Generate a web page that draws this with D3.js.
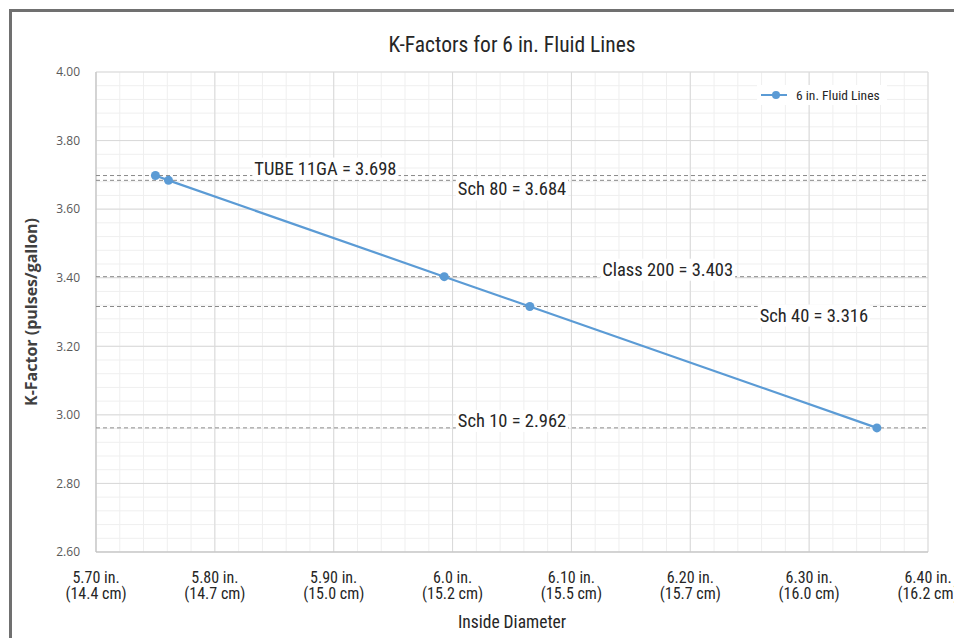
<!DOCTYPE html>
<html>
<head>
<meta charset="utf-8">
<script src="https://cdn.jsdelivr.net/npm/d3@7"></script>
<style>
    body { margin: 0; background: #fff; }
    .narrow { font-family: "Liberation Sans Narrow", "Roboto Condensed", "Liberation Sans", sans-serif; }
</style>
</head>
<body>
<script>
// data
const pipeNames = ["TUBE 11GA", "Sch 80", "Class 200", "Sch 40", "Sch 10"];
const insideDiam = [5.75, 5.761, 5.993, 6.065, 6.357];
const kFactor = [3.698, 3.684, 3.403, 3.316, 2.962];
// where each annotation sits along x (inches) and whether it goes above the dashed line
const labelAt = [5.893, 6.05, 6.181, 6.304, 6.05];
const labelAbove = [true, false, true, false, true];

const xTicks = [5.70, 5.80, 5.90, 6.0, 6.10, 6.20, 6.30, 6.40];
const xTickIn = ["5.70 in.", "5.80 in.", "5.90 in.", "6.0 in.", "6.10 in.", "6.20 in.", "6.30 in.", "6.40 in."];
const xTickCm = ["(14.4 cm)", "(14.7 cm)", "(15.0 cm)", "(15.2 cm)", "(15.5 cm)", "(15.7 cm)", "(16.0 cm)", "(16.2 cm)"];
const yTicks = [2.60, 2.80, 3.00, 3.20, 3.40, 3.60, 3.80, 4.00];

let width = 954;
let height = 638;
let margin = { top: 72, right: 26, bottom: 86, left: 96 };

var svg = d3.select("body").append("svg")
    .attr("width", width)
    .attr("height", height);

// outer frame (only top/left visible in the crop)
svg.append("rect")
    .attr("x", 10.5).attr("y", 10.5)
    .attr("width", width + 20).attr("height", height + 20)
    .attr("fill", "none")
    .attr("stroke", "#707070")
    .attr("stroke-width", 3);

var x = d3.scaleLinear().domain([5.70, 6.40]).range([margin.left, width - margin.right]);
var y = d3.scaleLinear().domain([2.60, 4.00]).range([height - margin.bottom, margin.top]);

// minor grid
let minorX = d3.range(0, 36).map(i => 5.70 + i * 0.02);
let minorY = d3.range(0, 36).map(i => 2.60 + i * 0.04);
var grid = svg.append("g");
grid.selectAll(".mx").data(minorX).enter().append("line")
    .attr("x1", d => x(d)).attr("x2", d => x(d))
    .attr("y1", y(2.6)).attr("y2", y(4.0))
    .attr("stroke", "#efefef");
grid.selectAll(".my").data(minorY).enter().append("line")
    .attr("x1", x(5.7)).attr("x2", x(6.4))
    .attr("y1", d => y(d)).attr("y2", d => y(d))
    .attr("stroke", "#efefef");
// major grid
grid.selectAll(".gx").data(xTicks).enter().append("line")
    .attr("x1", d => x(d)).attr("x2", d => x(d))
    .attr("y1", y(2.6)).attr("y2", y(4.0))
    .attr("stroke", "#d9d9d9");
grid.selectAll(".gy").data(yTicks).enter().append("line")
    .attr("x1", x(5.7)).attr("x2", x(6.4))
    .attr("y1", d => y(d)).attr("y2", d => y(d))
    .attr("stroke", "#d9d9d9");
// axis lines
svg.append("line")
    .attr("x1", x(5.7)).attr("x2", x(5.7)).attr("y1", y(2.6)).attr("y2", y(4.0))
    .attr("stroke", "#bfbfbf");
svg.append("line")
    .attr("x1", x(5.7)).attr("x2", x(6.4)).attr("y1", y(2.6)).attr("y2", y(2.6))
    .attr("stroke", "#bfbfbf");

// y tick labels
var yAxis = svg.append("g")
    .attr("transform", "translate(" + (margin.left - 13) + ",0)")
    .call(d3.axisLeft(y).tickValues(yTicks).tickFormat(d3.format(".2f")).tickSize(0));
yAxis.select(".domain").remove();
yAxis.selectAll("text")
    .attr("font-family", "'Open Sans', sans-serif")
    .attr("font-size", 12)
    .attr("fill", "#595959");

// x tick labels, two lines each
var xAxis = svg.append("g").attr("class", "narrow");
xTicks.forEach(function(t, i) {
    let txt = xAxis.append("text")
        .attr("x", x(t))
        .attr("text-anchor", "middle")
        .attr("font-size", 16)
        .attr("fill", "#262626");
    txt.append("tspan").attr("x", x(t)).attr("y", 583).text(xTickIn[i]);
    txt.append("tspan").attr("x", x(t)).attr("y", 599).text(xTickCm[i]);
});

// dashed reference lines
svg.selectAll(".ref").data(kFactor).enter().append("line")
    .attr("x1", x(5.7)).attr("x2", x(6.4))
    .attr("y1", d => y(d)).attr("y2", d => y(d))
    .attr("stroke", "#8a8a8a")
    .attr("stroke-dasharray", "4,3");

// series line + markers
var pts = insideDiam.map((d, i) => [d, kFactor[i]]);
svg.append("path")
    .datum(pts)
    .attr("fill", "none")
    .attr("stroke", "#5b9bd5")
    .attr("stroke-width", 2.2)
    .attr("d", d3.line().x(d => x(d[0])).y(d => y(d[1])));
svg.selectAll(".pt").data(pts).enter().append("circle")
    .attr("cx", d => x(d[0])).attr("cy", d => y(d[1]))
    .attr("r", 4.5)
    .attr("fill", "#5b9bd5");

// annotations with white backing
var notes = svg.append("g").attr("class", "narrow");
pipeNames.forEach(function(name, i) {
    let g = notes.append("g");
    let t = g.append("text")
        .attr("x", x(labelAt[i]))
        .attr("y", labelAbove[i] ? y(kFactor[i]) - 1 : y(kFactor[i]) + 15)
        .attr("text-anchor", "middle")
        .attr("font-size", 18.5)
        .attr("fill", "#262626")
        .text(name + " = " + kFactor[i].toFixed(3));
    let bb = t.node().getBBox();
    g.insert("rect", "text")
        .attr("x", bb.x - 2).attr("y", bb.y)
        .attr("width", bb.width + 4).attr("height", bb.height)
        .attr("fill", "#fff");
});

// title and axis titles
svg.append("text")
    .attr("class", "narrow")
    .attr("x", (x(5.7) + x(6.4)) / 2).attr("y", 52)
    .attr("text-anchor", "middle")
    .attr("font-size", 21.5)
    .attr("fill", "#262626")
    .text("K-Factors for 6 in. Fluid Lines");

svg.append("text")
    .attr("class", "narrow")
    .attr("x", (x(5.7) + x(6.4)) / 2).attr("y", 628)
    .attr("text-anchor", "middle")
    .attr("font-size", 17.5)
    .attr("fill", "#262626")
    .text("Inside Diameter");

svg.append("text")
    .attr("transform", "translate(37,312) rotate(-90)")
    .attr("text-anchor", "middle")
    .attr("font-family", "'Open Sans', sans-serif")
    .attr("font-weight", "bold")
    .attr("font-size", 16)
    .attr("fill", "#404040")
    .text("K-Factor (pulses/gallon)");

// legend
var legend = svg.append("g").attr("transform", "translate(761,95)");
legend.append("rect").attr("x", -4).attr("y", -10).attr("width", 130).attr("height", 20).attr("fill", "#fff");
legend.append("line").attr("x1", 0).attr("x2", 26).attr("stroke", "#5b9bd5").attr("stroke-width", 2);
legend.append("circle").attr("cx", 15).attr("r", 4).attr("fill", "#5b9bd5");
legend.append("text")
    .attr("class", "narrow")
    .attr("x", 35).attr("y", 5)
    .attr("font-size", 13.5)
    .attr("fill", "#262626")
    .text("6 in. Fluid Lines");
</script>
</body>
</html>
